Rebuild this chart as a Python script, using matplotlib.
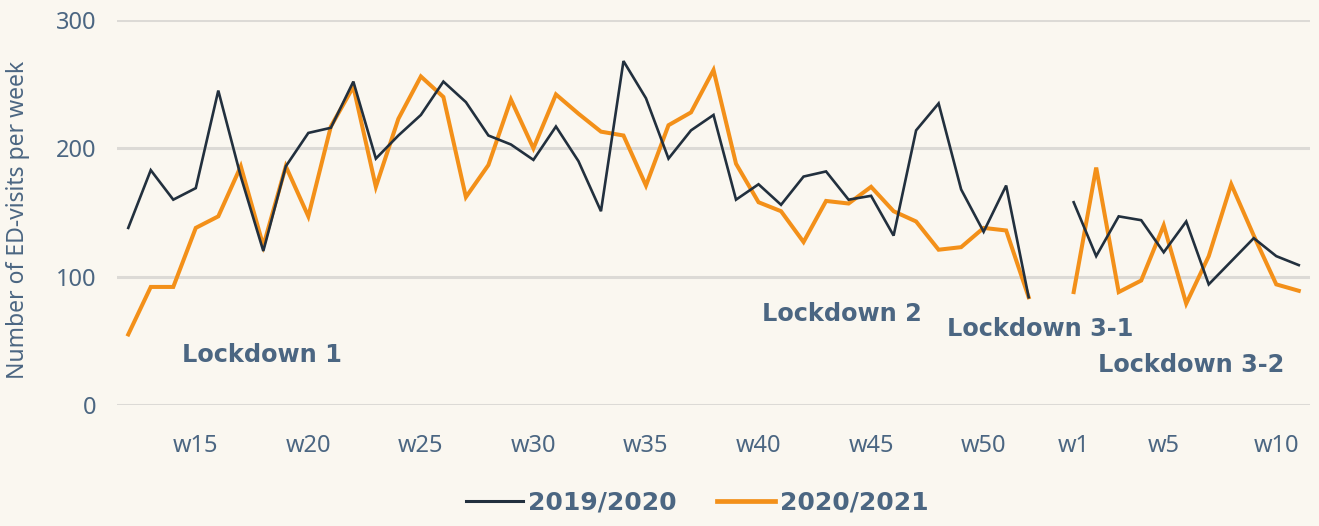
import numpy as np
import matplotlib
matplotlib.use("Agg")
import matplotlib.pyplot as plt
from matplotlib.lines import Line2D

weeks = [f"w{i}" for i in range(12, 54)] + [f"w{i}" for i in range(1, 12)]
shown_ticks = ["w15", "w20", "w25", "w30", "w35", "w40", "w45", "w50", "w1", "w5", "w10"]

nan = float("nan")
visits_2019_2020 = [138, 183, 160, 169, 245, 178, 120, 186, 212, 216, 252, 192, 210, 226, 252, 236,
                    210, 203, 191, 217, 190, 151, 268, 239, 192, 214, 226, 160, 172, 156, 178, 182,
                    160, 163, 132, 214, 235, 168, 135, 171, 84, nan,
                    158, 116, 147, 144, 119, 143, 94, 112, 130, 116, 109]
visits_2020_2021 = [55, 92, 92, 138, 147, 186, 124, 186, 147, 217, 248, 170, 223, 256, 240, 162,
                    187, 238, 200, 242, 227, 213, 210, 171, 218, 228, 261, 188, 158, 151, 127, 159,
                    157, 170, 151, 143, 121, 123, 138, 136, 84, nan,
                    88, 185, 88, 97, 140, 79, 116, 172, 132, 94, 89]

series_labels = ["2019/2020", "2020/2021"]
annotations = [("Lockdown 1", 5.94, 39), ("Lockdown 2", 31.7, 71),
               ("Lockdown 3-1", 40.5, 59), ("Lockdown 3-2", 47.2, 31)]

bg = "#FAF7F0"
dark = "#22303E"
orange = "#F39019"
txt = "#4B6682"
grid = "#DCDAD6"

fig = plt.figure(figsize=(13.19, 5.26), dpi=100, facecolor=bg)
ax = fig.add_axes([0.0887, 0.23, 0.9045, 0.732])
ax.set_facecolor(bg)

x = np.arange(len(weeks))
ax.plot(x, visits_2019_2020, color=dark, lw=1.9, solid_joinstyle="miter", zorder=3)
ax.plot(x, visits_2020_2021, color=orange, lw=2.9, solid_joinstyle="miter", zorder=2)

ax.set_xlim(-0.5, len(weeks) - 0.5)
ax.set_ylim(0, 300)
ax.set_yticks([0, 100, 200, 300])
ax.yaxis.grid(True, color=grid, lw=2.2)
ax.set_axisbelow(True)
for s in ax.spines.values():
    s.set_visible(False)

# w15..w50 belong to the first year block; w1/w5/w10 to the second
tick_pos = []
for t in shown_ticks:
    n = int(t[1:])
    if n >= 12:
        tick_pos.append(n - 12)
    else:
        tick_pos.append(42 + n - 1)
ax.set_xticks(tick_pos)
ax.set_xticklabels(shown_ticks)
ax.tick_params(axis="both", length=0, colors=txt, labelsize=17)
ax.tick_params(axis="y", pad=15)
ax.tick_params(axis="x", pad=21)
for lab in ax.get_xticklabels() + ax.get_yticklabels():
    lab.set_fontfamily("Noto Sans")
    lab.set_color(txt)

fig.text(0.0137, 1 - 220 / 526, "Number of ED-visits per week", rotation=90,
         ha="center", va="center", color=txt, fontsize=16.5, family="Noto Sans")

for label, ax_x, ax_y in annotations:
    ax.text(ax_x, ax_y, label, ha="center", va="center", color=txt,
            fontsize=17.3, fontweight="bold", family="DejaVu Sans")

handles = [Line2D([0], [0], color=dark, lw=2.2), Line2D([0], [0], color=orange, lw=3.4)]
leg = fig.legend(handles, series_labels, loc="center", bbox_to_anchor=(697 / 1319, 1 - 503 / 526),
                 ncol=2, frameon=False, handlelength=2.3, handletextpad=0.2, columnspacing=1.6,
                 prop={"family": "DejaVu Sans", "weight": "bold", "size": 18})
for t in leg.get_texts():
    t.set_color(txt)

fig.savefig("out.png", dpi=100, facecolor=bg)
